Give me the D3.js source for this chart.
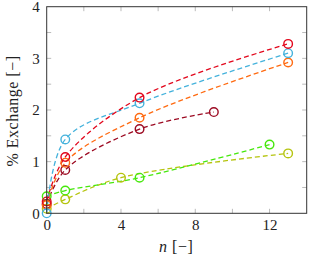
<!DOCTYPE html>
<html>
<head>
<meta charset="utf-8">
<script src="https://cdn.jsdelivr.net/npm/d3@7"></script>
<style>
body{margin:0;background:#fff;}
svg text{font-family:"Liberation Serif",serif !important;fill:#222;}
</style>
</head>
<body>
<svg id="chart" font-family="Liberation Serif"></svg>
<script>
var w=309;
var h=261;
var margin={left:46.7,right:2.3,top:6.7,bottom:47.7};

// n values and % exchange for each series
var nA=[0,1,5,13];
var redY=[0.23,1.09,2.24,3.28];
var cyanY=[0,1.43,2.13,3.10];
var orangeY=[0.16,0.98,1.85,2.92];
var nDark=[0,1,5,9];
var darkY=[0.18,0.84,1.63,1.96];
var nGreen=[0,1,5,12];
var greenY=[0.33,0.44,0.69,1.33];
var nYellow=[0,1,4,13];
var yellowY=[0.09,0.27,0.69,1.16];

var xTicks=[0,4,8,12];
var yTicks=[0,1,2,3,4];

var series=[
  {n:nYellow,y:yellowY,c:"#b5c40e"},
  {n:nGreen,y:greenY,c:"#46e80c"},
  {n:nDark,y:darkY,c:"#9c0a22"},
  {n:nA,y:orangeY,c:"#ff6a10"},
  {n:nA,y:cyanY,c:"#44b2dc"},
  {n:nA,y:redY,c:"#e2071c"}
];

var svg=d3.select("#chart").attr("width",w).attr("height",h);
var xScale=d3.scaleLinear().domain([0,14]).range([margin.left,w-margin.right]);
var yScale=d3.scaleLinear().domain([0,4]).range([h-margin.bottom,margin.top]);

// minor ticks (inside, grey)
var xMinor=d3.range(2,14,2);
var yMinor=d3.range(0.5,4,0.5);
var tk=svg.append("g").attr("stroke","#bbb").attr("stroke-width",1);
xMinor.forEach(function(v){
  tk.append("line").attr("x1",xScale(v)).attr("x2",xScale(v)).attr("y1",yScale(0)).attr("y2",yScale(0)-4.5);
  tk.append("line").attr("x1",xScale(v)).attr("x2",xScale(v)).attr("y1",yScale(4)).attr("y2",yScale(4)+4.5);
});
yMinor.forEach(function(v){
  tk.append("line").attr("y1",yScale(v)).attr("y2",yScale(v)).attr("x1",xScale(0)).attr("x2",xScale(0)+4.5);
  tk.append("line").attr("y1",yScale(v)).attr("y2",yScale(v)).attr("x1",xScale(14)).attr("x2",xScale(14)-4.5);
});

// data curves
var line=d3.line()
  .x(function(d){return xScale(d[0]);})
  .y(function(d){return yScale(d[1]);})
  .curve(d3.curveCatmullRom.alpha(0.5));
series.forEach(function(s){
  var pts=s.n.map(function(v,i){return [v,s.y[i]];});
  svg.append("path")
     .datum(pts)
     .attr("d",line)
     .attr("fill","none")
     .attr("stroke",s.c)
     .attr("stroke-width",1.3)
     .attr("stroke-dasharray","5,3");
});
series.forEach(function(s){
  var pts=s.n.map(function(v,i){return [v,s.y[i]];});
  svg.append("g")
     .selectAll("circle")
     .data(pts)
     .enter()
     .append("circle")
     .attr("cx",function(d){return xScale(d[0]);})
     .attr("cy",function(d){return yScale(d[1]);})
     .attr("r",4.3)
     .attr("fill","none")
     .attr("stroke",s.c)
     .attr("stroke-width",1.4);
});

// frame
svg.append("rect")
   .attr("x",xScale(0)).attr("y",yScale(4))
   .attr("width",xScale(14)-xScale(0)).attr("height",yScale(0)-yScale(4))
   .attr("fill","none").attr("stroke","#333").attr("stroke-width",1);

// axes labels
var xAxis=d3.axisBottom(xScale).tickValues(xTicks).tickFormat(d3.format("d")).tickSize(0).tickPadding(6);
var yAxis=d3.axisLeft(yScale).tickValues(yTicks).tickFormat(d3.format("d")).tickSize(0).tickPadding(7);
svg.append("g")
   .classed("xAxis",true)
   .attr("transform","translate(0,"+yScale(0)+")")
   .call(xAxis)
   .attr("font-family","Liberation Serif")
   .call(function(g){g.select(".domain").remove();})
   .selectAll("text").style("font-size","15px");
svg.append("g")
   .classed("yAxis",true)
   .attr("transform","translate("+xScale(0)+",0)")
   .call(yAxis)
   .attr("font-family","Liberation Serif")
   .call(function(g){g.select(".domain").remove();})
   .selectAll("text").style("font-size","15px");

var xl=svg.append("text")
   .attr("x",xScale(7)-0.5)
   .attr("y",252)
   .attr("text-anchor","middle")
   .style("font-size","16px")
   .style("letter-spacing","0.5px");
xl.append("tspan").style("font-style","italic").text("n");
xl.append("tspan").text(" [\u2212]");

svg.append("text")
   .attr("transform","translate(18,"+(yScale(2)+1)+") rotate(-90)")
   .attr("text-anchor","middle")
   .style("font-size","16px")
   .style("letter-spacing","0.5px")
   .text("% Exchange [\u2212]");
</script>
</body>
</html>
